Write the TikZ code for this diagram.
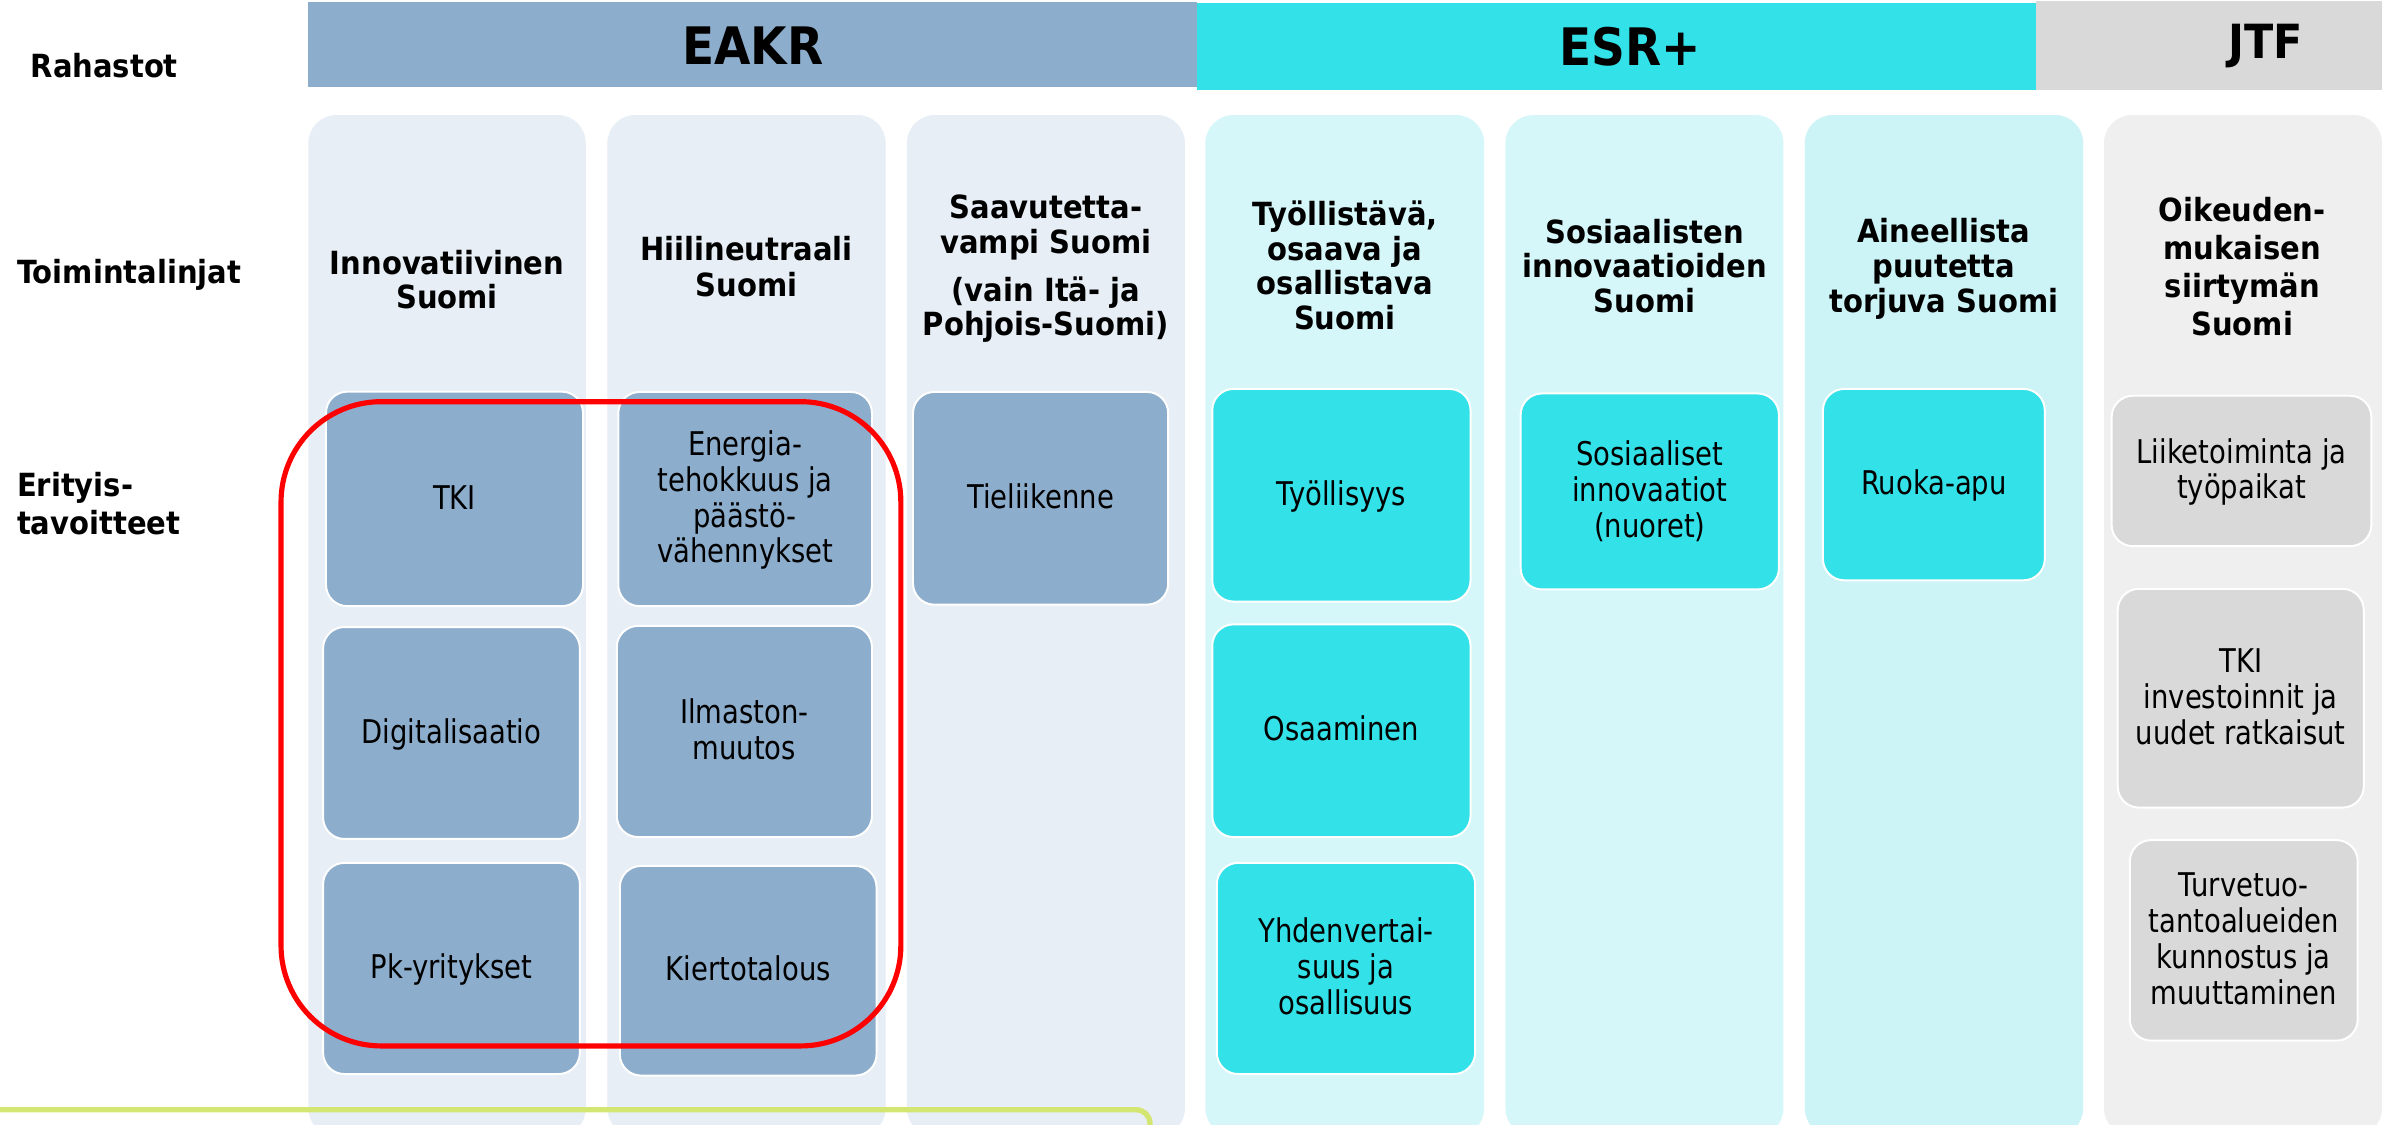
\documentclass[tikz,border=0pt]{standalone}
\usepackage{fontspec}
\setmainfont{DejaVu Sans}[FakeStretch=0.84]
\newfontfamily\titlef{DejaVu Sans}[FakeStretch=0.91]
\definecolor{eakr}{HTML}{8DADCC}
\definecolor{eakrbg}{HTML}{E7EEF5}
\definecolor{esr}{HTML}{33E1E8}
\definecolor{esrbg}{HTML}{D6F7F9}
\definecolor{esrbgb}{HTML}{CCF3F5}
\definecolor{jtf}{HTML}{D9D9D9}
\definecolor{jtfbg}{HTML}{EFEFEF}
\definecolor{redline}{HTML}{FF0000}
\definecolor{limeline}{HTML}{D4E672}
\begin{document}
\setlength{\lineskiplimit}{-100pt}
\begin{tikzpicture}[x=1pt,y=1pt,
  colbg/.style={rounded corners=18.5},
  ebox/.style={draw=white, line width=1.3pt, rounded corners=14, inner sep=0},
  btxt/.style={font=\fontsize{21.5}{23.5}\selectfont, align=center, inner sep=0},
  ttl/.style={font=\titlef\bfseries\fontsize{21}{#1}\selectfont, align=center, inner sep=0, anchor=north},
  hdr/.style={font=\titlef\bfseries\fontsize{34}{40}\selectfont, inner sep=0},
  rowlab/.style={font=\titlef\bfseries\fontsize{21}{25}\selectfont, align=left, inner sep=0, anchor=north west}]
\useasboundingbox (0,0) rectangle (1568,-740);
\clip (0,0) rectangle (1568,-740);
\fill[white] (0,0) rectangle (1568,-740);

% header bars
\fill[eakr] (202.5,-1.4) rectangle (788,-57.3);
\fill[esr] (788,-2) rectangle (1340,-59);
\fill[jtf] (1340,-0.7) rectangle (1575,-59);
\node[hdr] (heakr) at (495.5,-30) {EAKR};
\node[hdr] (hesr) at (1073,-30.5) {ESR+};
\node[hdr, font=\titlef\bfseries\fontsize{31}{36}\selectfont] (hjtf) at (1491.5,-30.5) {JTF};

% columns
\fill[eakrbg, colbg] (203,-75.7) rectangle (385.6,-748);
\fill[eakrbg, colbg] (399.8,-75.7) rectangle (583,-748);
\fill[eakrbg, colbg] (597,-75.7) rectangle (780,-748);
\fill[esrbg, colbg] (793.5,-75.7) rectangle (977,-748);
\fill[esrbg, colbg] (991,-75.7) rectangle (1174,-748);
\fill[esrbgb, colbg] (1188,-75.7) rectangle (1371.3,-748);
\fill[jtfbg, colbg] (1385,-75.7) rectangle (1568,-748);

% row labels
\node[rowlab] (lrah) at (20,-33) {\strut Rahastot};
\node[rowlab] (ltoi) at (11,-169.2) {\strut Toimintalinjat};
\node[rowlab] (leri) at (11,-309.3) {\strut Erityis-\\\strut tavoitteet};

% column titles
\node[ttl=22.3] (t1) at (294.3,-164.3) {\strut Innovatiivinen\\\strut Suomi};
\node[ttl=23.1] (t2) at (491.5,-155.4) {\strut Hiilineutraali\\\strut Suomi};
\node[ttl=22.8] (t3) at (688.5,-127.9) {\strut Saavutetta-\\\strut vampi Suomi\\[8.7pt]\strut (vain Itä- ja\\\strut Pohjois-Suomi)};
\node[ttl=22.7] (t4) at (885.3,-132.2) {\strut Työllistävä,\\\strut osaava ja\\\strut osallistava\\\strut Suomi};
\node[ttl=22.8] (t5) at (1082.6,-144) {\strut Sosiaalisten\\\strut innovaatioiden\\\strut Suomi};
\node[ttl=23] (t6) at (1279.5,-143.3) {\strut Aineellista\\\strut puutetta\\\strut torjuva Suomi};
\node[ttl=25] (t7) at (1476,-128.3) {\strut Oikeuden-\\\strut mukaisen\\\strut siirtymän\\\strut Suomi};

% boxes
\node[ebox, fill=eakr, minimum width=169.2, minimum height=141.2] (b11) at (299.2,-328.4) {};
\node[ebox, fill=eakr, minimum width=169, minimum height=139.5] (b12) at (297.2,-482.5) {};
\node[ebox, fill=eakr, minimum width=169, minimum height=139] (b13) at (297.2,-637.5) {};
\node[ebox, fill=eakr, minimum width=167, minimum height=141] (b21) at (490.5,-328.5) {};
\node[ebox, fill=eakr, minimum width=168, minimum height=139] (b22) at (490,-481.5) {};
\node[ebox, fill=eakr, minimum width=169, minimum height=138] (b23) at (492.5,-639) {};
\node[ebox, fill=eakr, minimum width=168, minimum height=140] (b31) at (685,-328) {};
\node[ebox, fill=esr, minimum width=170, minimum height=140] (b41) at (883,-326) {};
\node[ebox, fill=esr, minimum width=170, minimum height=140] (b42) at (883,-481) {};
\node[ebox, fill=esr, minimum width=170, minimum height=139] (b43) at (886,-637.5) {};
\node[ebox, fill=esr, minimum width=170, minimum height=129] (b51) at (1086,-323.5) {};
\node[ebox, fill=esr, minimum width=146, minimum height=126] (b61) at (1273,-319) {};
\node[ebox, fill=jtf, minimum width=171, minimum height=99] (b71) at (1475.5,-310) {};
\node[ebox, fill=jtf, minimum width=162, minimum height=144] (b72) at (1475,-459.6) {};
\node[ebox, fill=jtf, minimum width=150, minimum height=132] (b73) at (1477,-619) {};

% box texts
\node[btxt] (x11) at ([yshift=-2pt]b11.center) {\strut TKI};
\node[btxt] (x12) at ([yshift=-2pt]b12.center) {\strut Digitalisaatio};
\node[btxt] (x13) at ([yshift=-2pt]b13.center) {\strut Pk-yritykset};
\node[btxt] (x21) at ([yshift=-2pt]b21.center) {\strut Energia-\\\strut tehokkuus ja\\\strut päästö-\\\strut vähennykset};
\node[btxt] (x22) at ([yshift=-2pt]b22.center) {\strut Ilmaston-\\\strut muutos};
\node[btxt] (x23) at ([yshift=-2pt]b23.center) {\strut Kiertotalous};
\node[btxt] (x31) at ([yshift=-2pt]b31.center) {\strut Tieliikenne};
\node[btxt] (x41) at ([yshift=-2pt]b41.center) {\strut Työllisyys};
\node[btxt] (x42) at ([yshift=-2pt]b42.center) {\strut Osaaminen};
\node[btxt] (x43) at ([yshift=-2pt]b43.center) {\strut Yhdenvertai-\\\strut suus ja\\\strut osallisuus};
\node[btxt] (x51) at ([yshift=-2pt]b51.center) {\strut Sosiaaliset\\\strut innovaatiot\\\strut (nuoret)};
\node[btxt] (x61) at ([yshift=-2pt]b61.center) {\strut Ruoka-apu};
\node[btxt] (x71) at ([yshift=-2pt]b71.center) {\strut Liiketoiminta ja\\\strut työpaikat};
\node[btxt] (x72) at ([yshift=-2pt]b72.center) {\strut TKI\\\strut investoinnit ja\\\strut uudet ratkaisut};
\node[btxt] (x73) at ([yshift=-2pt]b73.center) {\strut Turvetuo-\\\strut tantoalueiden\\\strut kunnostus ja\\\strut muuttaminen};

% highlight frames
\draw[redline, line width=3.4pt, rounded corners=66] (185,-264.4) rectangle (593,-688.5);
\draw[limeline, line width=3.5pt, rounded corners=9] (-5,-730.5) -- (757,-730.5) -- (757,-780);
\end{tikzpicture}
\end{document}
